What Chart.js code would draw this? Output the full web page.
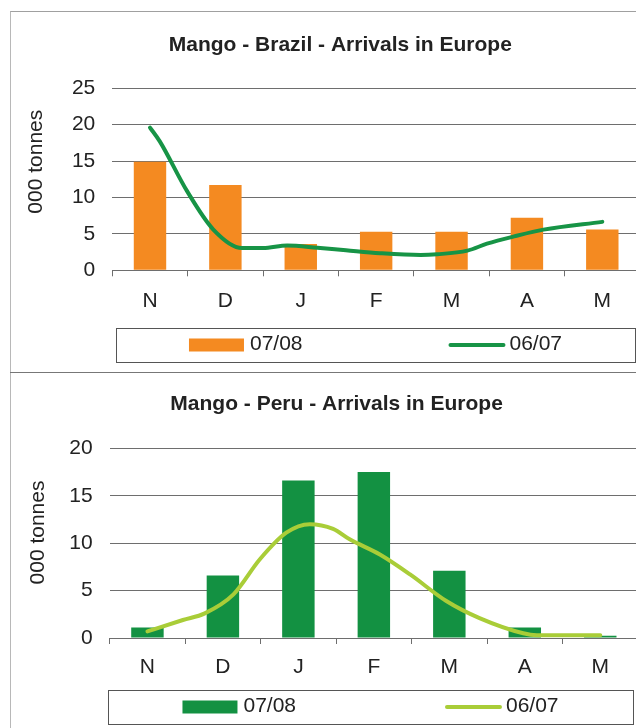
<!DOCTYPE html>
<html lang="en">
<head>
<meta charset="UTF-8">
<title>Mango - Arrivals in Europe</title>
<script src="https://cdn.jsdelivr.net/npm/chart.js"></script>
<style>
  body { margin: 0; background: #fff; width: 636px; height: 728px; overflow: hidden; position: relative; }
  #frame { position: absolute; left: 10px; top: 11px; width: 640px; height: 730px;
           border-left: 1px solid #b8b8b8; border-top: 1px solid #a0a0a0; }
  #divider { position: absolute; left: 10px; top: 372px; width: 640px; height: 1px; background: #777; }
  canvas { position: absolute; left: 0; }
  #brazil { top: 0; }
  #peru { top: 372px; }
</style>
</head>
<body>
<div id="frame"></div>
<div id="divider"></div>
<canvas id="brazil" width="640" height="372"></canvas>
<canvas id="peru" width="638" height="356"></canvas>
<script>
// months Nov -> May
const months = ['N', 'D', 'J', 'F', 'M', 'A', 'M'];

// Brazil, 000 tonnes
const brazil0708 = [14.9, 11.7, 3.6, 5.3, 5.3, 7.2, 5.6];
// 06/07 curve, x is month index (0 = N)
const brazilLineX = [0, 0.13, 0.49, 0.84, 1.22, 1.5, 1.82, 2.22, 2.6, 3.05, 3.59, 3.81, 4.21, 4.47, 4.83, 5.22, 6.0];
const brazilLineY = [19.6, 17.7, 10.9, 5.6, 3.06, 3.06, 3.4, 3.1, 2.75, 2.35, 2.1, 2.2, 2.7, 3.65, 4.65, 5.58, 6.65];
const brazilMax = 25;

// Peru, 000 tonnes
const peru0708 = [1.1, 6.6, 16.6, 17.5, 7.1, 1.1, 0.25];
const peruLineX = [0, 0.47, 0.76, 1.14, 1.49, 1.84, 2.15, 2.46, 2.68, 3.08, 3.48, 3.96, 4.4, 4.98, 5.16, 6.0];
const peruLineY = [0.7, 1.9, 2.6, 4.6, 8.3, 11.1, 12.0, 11.5, 10.4, 8.8, 6.7, 3.9, 2.1, 0.5, 0.3, 0.3];
const peruMax = 20;

const yStep = 5;
const seriesNames = ['07/08', '06/07'];
const yTitle = '000 tonnes';

const FONT = '"Liberation Sans", Arial, Helvetica, sans-serif';
const TEXT = '#222';
const GRID = '#6e6e6e';
Chart.defaults.font.family = FONT;
Chart.defaults.font.size = 21;
Chart.defaults.color = TEXT;

// excel style legend: bordered box under the axis, one slot per series
const boxedLegend = {
  id: 'boxedLegend',
  afterDraw(chart, args, opts) {
    const ctx = chart.ctx;
    const area = chart.chartArea;
    const left = Math.round(area.left + opts.insetLeft);
    const right = Math.round(area.right - opts.insetRight);
    const top = opts.top, h = opts.height;
    ctx.save();
    ctx.strokeStyle = '#555';
    ctx.lineWidth = 1;
    ctx.strokeRect(left + 0.5, top + 0.5, right - left, h);
    ctx.font = '21px ' + FONT;
    ctx.textBaseline = 'middle';
    const sets = chart.data.datasets;
    const slot = (right - left) / sets.length;
    const cy = top + h / 2;
    sets.forEach((d, i) => {
      const w = 55 + 6 + ctx.measureText(d.label).width;
      const x = left + slot * (i + 0.5) - w / 2;
      if (d.type === 'line') {
        ctx.strokeStyle = d.borderColor;
        ctx.lineWidth = 4;
        ctx.lineCap = 'round';
        ctx.beginPath();
        ctx.moveTo(x + 2, cy);
        ctx.lineTo(x + 55, cy);
        ctx.stroke();
      } else {
        ctx.fillStyle = d.backgroundColor;
        ctx.fillRect(x, cy - 6.5, 55, 13);
      }
      ctx.fillStyle = TEXT;
      ctx.fillText(d.label, x + 61, cy - 1);
    });
    ctx.restore();
  }
};

// rotated y axis title
const sideTitle = {
  id: 'sideTitle',
  afterDraw(chart, args, opts) {
    const ctx = chart.ctx;
    ctx.save();
    ctx.translate(opts.x, opts.y);
    ctx.rotate(-Math.PI / 2);
    ctx.font = '21px ' + FONT;
    ctx.fillStyle = TEXT;
    ctx.textAlign = 'center';
    ctx.textBaseline = 'middle';
    ctx.fillText(opts.text, 0, 0);
    ctx.restore();
  }
};

function makeChart(id, cfg) {
  return new Chart(document.getElementById(id), {
    type: 'bar',
    data: {
      labels: months,
      datasets: [{
        label: seriesNames[0],
        data: cfg.bars,
        backgroundColor: cfg.barColor,
        barPercentage: 0.43,
        categoryPercentage: 1,
        grouped: false,
        order: 2
      }, {
        type: 'line',
        label: seriesNames[1],
        data: cfg.lineX.map((x, i) => ({ x: x, y: cfg.lineY[i] })),
        xAxisID: 'x2',
        borderColor: cfg.lineColor,
        borderWidth: 4,
        borderCapStyle: 'round',
        pointRadius: 0,
        cubicInterpolationMode: 'monotone',
        order: 1
      }]
    },
    options: {
      responsive: false,
      animation: false,
      layout: { padding: { left: cfg.padLeft, top: 0, right: 0, bottom: cfg.padBottom } },
      scales: {
        x: {
          grid: { drawOnChartArea: false, drawTicks: true, tickLength: 6, color: GRID },
          border: { display: true, color: GRID },
          ticks: { padding: cfg.xPad, color: TEXT },
          afterFit: s => { s.height = 6 + cfg.xPad + 25.2; }
        },
        x2: { type: 'linear', display: false, offset: false, min: -0.5, max: 6.5 },
        y: {
          min: 0,
          max: cfg.max,
          ticks: { stepSize: yStep, padding: 17, color: TEXT },
          grid: { color: GRID, drawTicks: false },
          border: { display: false },
          afterFit: s => { s.width = cfg.plotLeft - cfg.padLeft; }
        }
      },
      plugins: {
        legend: { display: false },
        tooltip: { enabled: false },
        title: {
          display: true,
          text: cfg.title,
          color: TEXT,
          font: { size: 21, weight: 'bold' },
          padding: { top: cfg.titleTop, bottom: cfg.titleBottom }
        },
        boxedLegend: { top: cfg.legendTop, height: 34, insetLeft: cfg.legendInsetL, insetRight: 5 },
        sideTitle: { text: yTitle, x: cfg.yTitleX, y: cfg.yTitleY }
      }
    },
    plugins: [boxedLegend, sideTitle]
  });
}

makeChart('brazil', {
  title: 'Mango - Brazil - Arrivals in Europe',
  bars: brazil0708, lineX: brazilLineX, lineY: brazilLineY, max: brazilMax,
  barColor: '#f48a21', lineColor: '#179446',
  padLeft: 40.6, plotLeft: 112.3, padBottom: 57.7, xPad: 12.8,
  titleTop: 33, titleBottom: 30,
  legendTop: 328, legendInsetL: 4,
  yTitleX: 36, yTitleY: 161.7
});

makeChart('peru', {
  title: 'Mango - Peru - Arrivals in Europe',
  bars: peru0708, lineX: peruLineX, lineY: peruLineY, max: peruMax,
  barColor: '#139142', lineColor: '#a9cd38',
  padLeft: 35.2, plotLeft: 109.7, padBottom: 47.7, xPad: 11.1,
  titleTop: 19.6, titleBottom: 31.5,
  legendTop: 318, legendInsetL: -2,
  yTitleX: 38.5, yTitleY: 160.5
});
</script>
</body>
</html>
